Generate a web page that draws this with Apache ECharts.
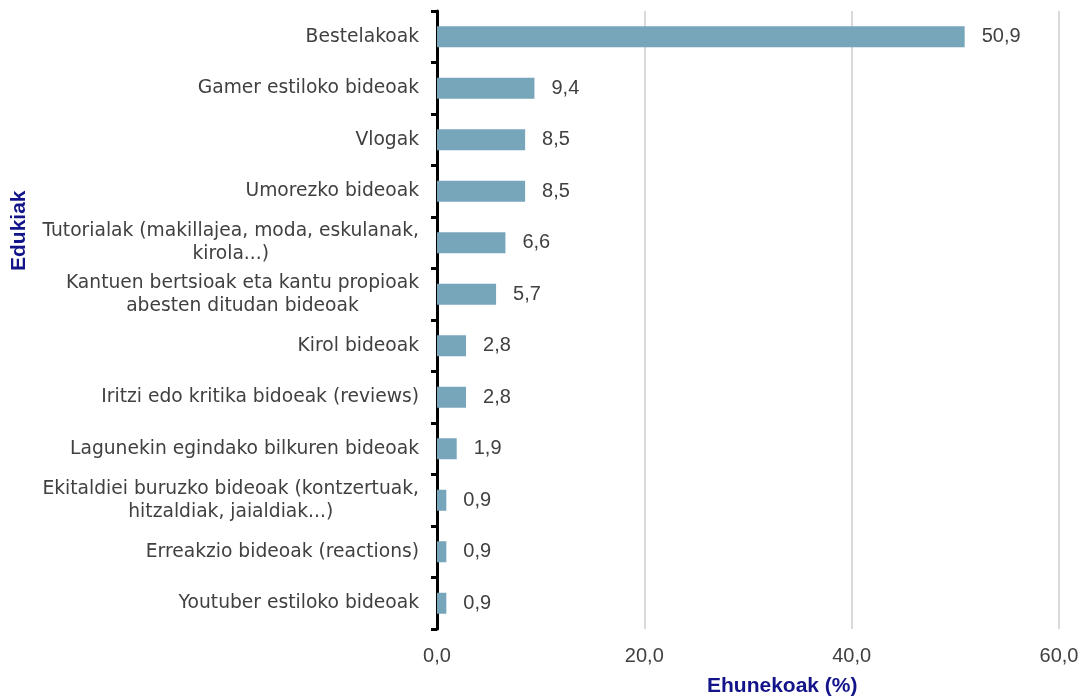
<!DOCTYPE html>
<html>
<head>
<meta charset="utf-8">
<script src="https://cdn.jsdelivr.net/npm/echarts@6/dist/echarts.min.js"></script>
<style>
  html, body { margin: 0; padding: 0; background: #fff; }
  #chart { width: 1084px; height: 696px; }
</style>
</head>
<body>
<div id="chart"></div>
<script>
// Edukiak (goitik behera)
const categories = [
  'Bestelakoak',
  'Gamer estiloko bideoak',
  'Vlogak',
  'Umorezko bideoak',
  'Tutorialak (makillajea, moda, eskulanak,\nkirola...)',
  'Kantuen bertsioak eta kantu propioak\nabesten ditudan bideoak',
  'Kirol bideoak',
  'Iritzi edo kritika bidoeak (reviews)',
  'Lagunekin egindako bilkuren bideoak',
  'Ekitaldiei buruzko bideoak (kontzertuak,\nhitzaldiak, jaialdiak...)',
  'Erreakzio bideoak (reactions)',
  'Youtuber estiloko bideoak'
];
const values = [50.9, 9.4, 8.5, 8.5, 6.6, 5.7, 2.8, 2.8, 1.9, 0.9, 0.9, 0.9];
const xTicks = [0, 20, 40, 60];

const fmt = v => v.toFixed(1).replace('.', ',');

const chart = echarts.init(document.getElementById('chart'));

const option = {
  backgroundColor: '#ffffff',
  animation: false,
  grid: { left: 437, right: 25, top: 11, height: 618, containLabel: false },
  xAxis: {
    type: 'value',
    min: xTicks[0],
    max: xTicks[xTicks.length - 1],
    interval: 20,
    axisLine: { show: false },
    axisTick: { show: false },
    axisLabel: {
      formatter: v => fmt(v),
      color: '#404040',
      fontFamily: 'Liberation Sans',
      fontSize: 20,
      margin: 17
    },
    splitLine: { show: true, lineStyle: { color: '#d9d9d9', width: 2 } }
  },
  yAxis: {
    type: 'category',
    data: categories,
    inverse: true,
    axisLine: { show: true, lineStyle: { color: '#000000', width: 3 } },
    axisTick: { show: true, length: 6, lineStyle: { color: '#000000', width: 3 } },
    axisLabel: {
      color: '#404040',
      fontFamily: 'DejaVu Sans',
      fontSize: 18.7,
      lineHeight: 23,
      align: 'right',
      margin: 18,
      // lerro anitzeko etiketak erdian lerrokatuta
      formatter: v => v.split('\n').map(s => '{c|' + s + '}').join('\n'),
      rich: {
        c: {
          align: 'center',
          color: '#404040',
          fontFamily: 'DejaVu Sans',
          fontSize: 18.7,
          lineHeight: 23
        }
      }
    }
  },
  series: [
    {
      type: 'bar',
      data: values,
      barWidth: 21,
      itemStyle: { color: '#77a5ba' },
      label: {
        show: true,
        position: 'right',
        distance: 17,
        formatter: p => fmt(p.value),
        color: '#404040',
        fontFamily: 'Liberation Sans',
        fontSize: 20
      }
    }
  ],
  graphic: [
    {
      type: 'text',
      x: 707,
      y: 686,
      style: {
        text: 'Ehunekoak (%)',
        fill: '#14148a',
        font: 'bold 21px "Liberation Sans"',
        verticalAlign: 'middle'
      }
    },
    {
      type: 'text',
      x: 9,
      y: 271,
      rotation: Math.PI / 2,
      style: {
        text: 'Edukiak',
        fill: '#14148a',
        font: 'bold 21px "Liberation Sans"'
      }
    }
  ]
};

chart.setOption(option);
</script>
</body>
</html>
